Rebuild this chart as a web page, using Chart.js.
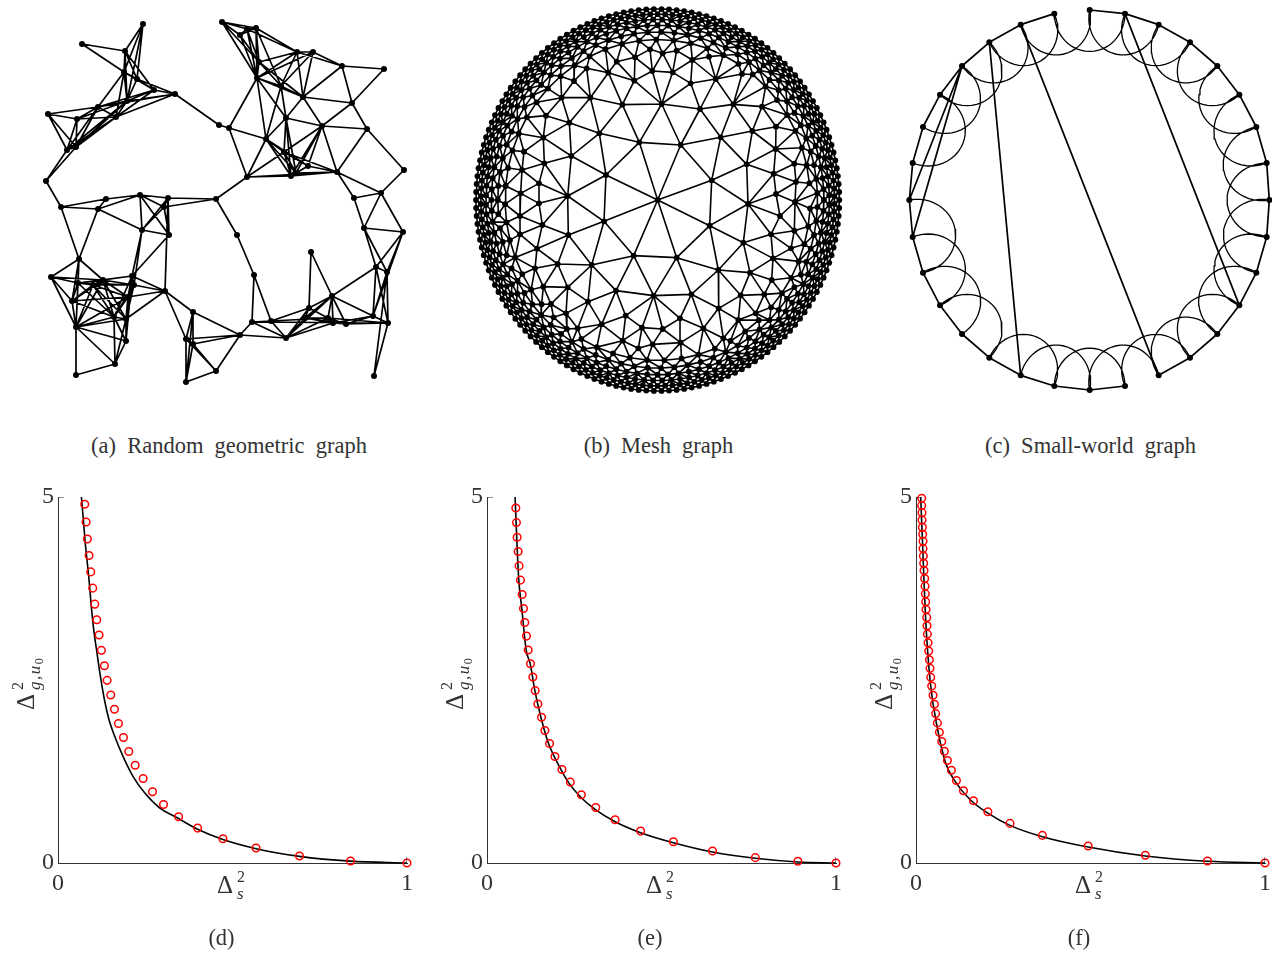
<!DOCTYPE html>
<html>
<head>
<meta charset="utf-8">
<script src="https://cdn.jsdelivr.net/npm/chart.js@4/dist/chart.umd.js"></script>
<style>
body { margin: 0; background: #fff; }
#page { position: relative; width: 1272px; height: 953px; overflow: hidden; font-family: "Liberation Serif", serif; color: #333; }
canvas { position: absolute; }
.caption { position: absolute; transform: translateX(-50%); font-size: 22.5px; line-height: 24px; white-space: nowrap; word-spacing: 5.5px; }
.math { position: absolute; white-space: nowrap; font-size: 25px; line-height: 24px; height: 24px; }
.math .up { position: absolute; left: 20px; top: -8px; font-size: 16px; }
.math .down { position: absolute; left: 20px; top: 9px; font-size: 17px; font-style: italic; }
.math .zero { font-size: 12px; font-style: normal; position: relative; top: 3px; }
.rot .down { letter-spacing: 1.5px; }
.rot { transform: rotate(-90deg); transform-origin: 0 0; }
</style>
</head>
<body>
<div id="page"></div>
<script>
// ---- (a) random geometric graph, nodes
const geoNodes = [[143,24],[82,44],[125,51],[124,72],[137,79],[154,90],[175,94],[127,101],[98,107],[116,117],
[48,114],[77,119],[76,147],[67,150],[46,181],[219,125],[229,128],[222,22],[247,29],[256,28],
[240,35],[259,62],[257,78],[297,52],[313,52],[342,66],[384,69],[281,86],[303,97],[352,103],
[286,118],[322,126],[367,129],[266,139],[284,152],[308,166],[337,172],[296,173],[291,176],[247,177],
[404,170],[381,193],[354,198],[216,199],[61,207],[106,199],[98,209],[140,195],[168,198],[164,207],
[142,230],[169,235],[79,259],[51,277],[78,283],[103,280],[93,285],[132,276],[134,285],[72,301],
[128,297],[165,291],[114,317],[126,319],[76,327],[126,341],[115,364],[76,375],[193,312],[186,339],
[193,344],[216,371],[186,382],[237,235],[254,275],[252,322],[271,321],[240,335],[286,338],[311,252],
[309,308],[305,318],[332,296],[328,318],[333,323],[346,324],[373,316],[388,323],[374,376],[376,267],
[387,272],[364,228],[403,232]];
const geoEdges = [[1,2],[1,3],[0,2],[0,3],[0,4],[0,7],[2,3],[2,4],[2,5],[2,7],[3,4],[3,5],[3,7],[3,8],[3,9],[4,5],[4,6],[4,7],
[5,6],[5,7],[5,8],[5,9],[6,7],[6,8],[6,9],[6,15],[7,8],[7,9],[7,11],[7,12],[7,13],[8,9],[8,10],[8,11],[8,12],[8,13],[9,11],[9,12],[9,13],
[10,11],[10,12],[10,13],[11,12],[11,13],[12,13],[12,14],[13,14],[14,44],[15,16],
[17,18],[17,19],[17,20],[17,21],[17,22],[18,19],[18,20],[18,21],[18,22],[19,20],[19,21],[19,22],[20,21],[20,22],[21,22],
[19,23],[18,23],[19,27],[21,23],[22,23],[21,27],[22,27],[22,28],[21,28],[23,24],[22,24],[27,23],[27,24],[23,25],[24,25],
[23,28],[24,28],[27,28],[25,26],[25,28],[25,29],[26,29],[28,29],[27,30],[22,30],[28,30],[28,31],[29,31],[29,32],[30,31],[31,32],
[22,33],[16,22],[16,33],[16,39],[33,39],[33,27],[33,30],[33,34],[33,35],[33,37],[33,38],[30,34],[30,37],[30,38],[31,34],[31,35],[31,36],[31,37],[31,38],
[34,35],[34,37],[34,38],[34,36],[34,39],[35,37],[35,38],[35,36],[36,37],[36,38],[36,39],[38,39],[32,36],[32,40],[36,41],[36,42],[40,41],[41,42],[39,43],
[44,45],[44,46],[45,46],[45,47],[46,47],[46,50],[47,48],[47,49],[47,50],[47,51],[48,49],[48,50],[48,51],[48,43],[49,43],[49,50],[49,51],[50,51],[44,52],[46,52],
[50,57],[50,58],[51,57],[48,61],[52,53],[52,54],[52,55],[52,59],[52,64],[53,54],[53,55],[53,59],[53,64],[54,55],[54,56],[54,57],[54,58],[54,59],[54,62],[54,64],
[55,56],[55,57],[55,58],[55,60],[55,59],[55,62],[55,63],[55,64],[56,58],[56,60],[56,59],[56,62],[56,63],[56,64],[57,58],[57,60],[57,61],[57,62],[57,63],[57,65],
[58,60],[58,61],[58,62],[58,63],[59,60],[59,62],[59,64],[60,61],[60,62],[60,63],[60,64],[60,65],[61,63],[62,63],[62,64],[62,65],[62,66],[63,64],[63,65],[63,66],
[64,65],[64,66],[64,67],[65,66],[66,67],[61,68],[61,69],[68,69],[68,70],[68,72],[69,70],[69,71],[69,72],[70,71],[70,72],[71,72],[71,77],[68,77],[69,77],[70,77],
[43,73],[73,74],[74,75],[74,76],[75,76],[75,77],[75,78],[76,78],[76,80],[75,83],[75,87],[77,78],[78,80],[78,81],[78,82],[78,83],[78,84],[79,80],[79,82],
[80,81],[80,82],[80,83],[81,82],[81,83],[81,84],[81,85],[82,83],[82,84],[82,85],[82,86],[82,89],[83,84],[83,85],[83,87],[84,85],[84,86],[84,87],[85,86],[85,87],
[86,87],[86,89],[86,90],[87,88],[87,89],[87,90],[88,90],[89,90],[89,91],[90,91],[90,92],[86,92],[89,92],[91,92],[91,42],[91,41],[41,92],[42,41]];

// ---- (b) mesh graph: inner nodes one by one, the tight outer rings as angles (deg)
const meshInner = [[563,600],[408,525],[293,588],[402,664],[295,705],[491,767],[365,795],[620,773],[719,677],[745,810],[820,728],[834,612],[725,541],[830,493],
[632,435],[508,427],[388,400],[304,468],[223,490],[220,413],[298,368],[361,293],[275,293],[457,314],[575,312],[690,327],[790,313],[752,412],[847,393],[876,320],
[918,380],[917,447],[911,521],[973,491],[978,546],[918,582],[975,606],[930,648],[973,692],[903,703],[963,745],[909,775],[840,818],[905,840],[883,883],[812,886],
[857,940],[805,960],[746,925],[700,985],[664,883],[551,887],[438,872],[354,905],[293,862],[263,792],[201,746],[195,805],[220,860],[243,912],[288,940],[395,973],
[467,947],[516,983],[578,987],[630,955],[632,1028],[548,1033],[458,1022],[505,1045],[323,985],[217,675],[207,610],[150,648],[150,703],[152,580],[207,550],[156,510],
[162,455],[228,347],[312,243],[350,205],[415,218],[493,242],[547,213],[608,217],[662,250],[737,237],[816,222],[495,172],[540,148],[578,160],[620,152],[667,180],
[717,170],[440,185],[760,1015]];
const meshRing1 = [0,2.4,4.8,7.2,9.6,12,14.4,16.8,19.2,21.6,24,26.4,28.8,31.2,33.6,36,38.4,40.8,43.2,45.6,48,50.4,52.8,55.2,57.6,60,62.4,64.8,67.2,69.6,
72,74.4,76.8,79.2,81.6,84,86.4,88.8,91.2,93.6,96,98.4,100.8,103.2,105.6,108,110.4,112.8,115.2,117.6,120,122.4,124.8,127.2,129.6,132,134.4,136.8,139.2,141.6,
144,146.4,148.8,151.2,153.6,156,158.4,160.8,163.2,165.6,168,170.4,172.8,175.2,177.6,180,182.4,184.8,187.2,189.6,192,194.4,196.8,199.2,201.6,204,206.4,208.8,211.2,213.6,
216,218.4,220.8,223.2,225.6,228,230.4,232.8,235.2,237.6,240,242.4,244.8,247.2,249.6,252,254.4,256.8,259.2,261.6,264,266.4,268.8,271.2,273.6,276,278.4,280.8,283.2,285.6,
288,290.4,292.8,295.2,297.6,300,302.4,304.8,307.2,309.6,312,314.4,316.8,319.2,321.6,324,326.4,328.8,331.2,333.6,336,338.4,340.8,343.2,345.6,348,350.4,352.8,355.2,357.6];
const meshRing2 = [1.2,3.6,6,8.4,10.8,13.2,15.6,18,20.4,22.8,25.2,27.6,30,32.4,34.8,37.2,39.6,42,44.4,46.8,49.2,51.6,54,56.4,58.8,61.2,63.6,66,68.4,70.8,
73.2,75.6,78,80.4,82.8,85.2,87.6,90,92.4,94.8,97.2,99.6,102,104.4,106.8,109.2,111.6,114,116.4,118.8,121.2,123.6,126,128.4,130.8,133.2,135.6,138,140.4,142.8,
145.2,147.6,150,152.4,154.8,157.2,159.6,162,164.4,166.8,169.2,171.6,174,176.4,178.8,181.2,183.6,186,188.4,190.8,193.2,195.6,198,200.4,202.8,205.2,207.6,210,212.4,214.8,
217.2,219.6,222,224.4,226.8,229.2,231.6,234,236.4,238.8,241.2,243.6,246,248.4,250.8,253.2,255.6,258,260.4,262.8,265.2,267.6,270,272.4,274.8,277.2,279.6,282,284.4,286.8,
289.2,291.6,294,296.4,298.8,301.2,303.6,306,308.4,310.8,313.2,315.6,318,320.4,322.8,325.2,327.6,330,332.4,334.8,337.2,339.6,342,344.4,346.8,349.2,351.6,354,356.4,358.8];
const meshRing3 = [1.5,4.5,7.5,10.5,13.5,16.5,19.5,22.5,25.5,28.5,31.5,34.5,37.5,40.5,43.5,46.5,49.5,52.5,55.5,58.5,61.5,64.5,67.5,70.5,73.5,76.5,79.5,82.5,85.5,88.5,91.5,94.5,97.5,100.5,103.5,106.5,109.5,112.5,115.5,118.5,
121.5,124.5,127.5,130.5,133.5,136.5,139.5,142.5,145.5,148.5,151.5,154.5,157.5,160.5,163.5,166.5,169.5,172.5,175.5,178.5,181.5,184.5,187.5,190.5,193.5,196.5,199.5,202.5,205.5,208.5,211.5,214.5,217.5,220.5,223.5,226.5,229.5,232.5,235.5,238.5,
241.5,244.5,247.5,250.5,253.5,256.5,259.5,262.5,265.5,268.5,271.5,274.5,277.5,280.5,283.5,286.5,289.5,292.5,295.5,298.5,301.5,304.5,307.5,310.5,313.5,316.5,319.5,322.5,325.5,328.5,331.5,334.5,337.5,340.5,343.5,346.5,349.5,352.5,355.5,358.5];
const meshRing4 = [0,3.6,7.2,10.8,14.4,18,21.6,25.2,28.8,32.4,36,39.6,43.2,46.8,50.4,54,57.6,61.2,64.8,68.4,72,75.6,79.2,82.8,86.4,90,93.6,97.2,100.8,104.4,108,111.6,115.2,118.8,122.4,126,129.6,133.2,136.8,140.4,144,147.6,151.2,154.8,158.4,162,165.6,169.2,172.8,176.4,
180,183.6,187.2,190.8,194.4,198,201.6,205.2,208.8,212.4,216,219.6,223.2,226.8,230.4,234,237.6,241.2,244.8,248.4,252,255.6,259.2,262.8,266.4,270,273.6,277.2,280.8,284.4,288,291.6,295.2,298.8,302.4,306,309.6,313.2,316.8,320.4,324,327.6,331.2,334.8,338.4,342,345.6,349.2,352.8,356.4];
const meshRing5 = [2.4,7.2,12,16.8,21.6,26.4,31.2,36,40.8,45.6,50.4,55.2,60,64.8,69.6,74.4,79.2,84,88.8,93.6,98.4,103.2,108,112.8,117.6,122.4,127.2,132,136.8,141.6,146.4,151.2,156,160.8,165.6,170.4,175.2,180,184.8,189.6,
194.4,199.2,204,208.8,213.6,218.4,223.2,228,232.8,237.6,242.4,247.2,252,256.8,261.6,266.4,271.2,276,280.8,285.6,290.4,295.2,300,304.8,309.6,314.4,319.2,324,328.8,333.6,338.4,343.2,348,352.8,357.6];
const meshRing6 = [3,9.5,16,22.5,29,35.5,42,48.5,55,61.5,68,74.5,81,87.5,94,100.5,107,113.5,120,126.5,133,139.5,146,152.5,159,165.5,172,178.5,185,191.5,198,204.5,211,217.5,224,230.5,237,243.5,250,256.5,263,269.5,276,282.5,289,295.5,302,308.5,315,321.5,328,334.5,341,347.5,354];
const meshRingScale = [1, 0.973, 0.945, 0.915, 0.88, 0.84];

// ---- (c) small-world graph
const smallNodes = [[569,30],[675,41],[776,74],[870,127],[952,198],[1018,284],[1069,381],[1100,489],[1108,600],[1100,711],[1069,818],[1018,916],[952,1002],[870,1073],[776,1126],[675,1158],
[569,1170],[463,1158],[362,1126],[268,1073],[186,1002],[120,916],[69,818],[38,711],[28,600],[38,489],[69,381],[120,284],[186,198],[268,127],[362,74],[463,41]];
const smallEdges = [[0,1],[1,2],[2,3],[3,4],[4,5],[5,6],[6,7],[7,8],[8,9],[9,10],[10,11],[11,12],[12,13],[13,14],[15,16],[16,17],[17,18],[18,19],[19,20],[20,21],[21,22],[22,23],[23,24],[24,25],[25,26],[26,27],[27,28],[28,29],[29,30],[30,31],
[29,18],[30,14],[1,11],[28,24],[28,23]];
const smallArcs = [[24,22],[23,21],[22,20],[21,19],[19,17],[18,16],[17,15],[16,14],[15,13],[14,12],[13,11],[12,10],[11,9],[10,8],[9,7],[8,6],[7,5],[6,4],[5,3],[4,2],[3,1],[2,0],[1,31],[0,30],[31,29],[30,28],[29,27],[28,26],[27,25]];

// ---- (d) (e) (f) curves: [x, y]
const curveD = [[.067,5],[.0725,4.7],[.0775,4.4],[.0832,4.136],[.089,3.864],[.0947,3.545],[.1025,3.181],[.1119,2.864],[.1217,2.545],[.1332,2.227],[.1464,1.954],[.1627,1.727],[.1866,1.454],[.2153,1.181],[.2488,.955],[.2919,.75],[.335,.635],[.4,.46],[.4727,.32],[.5675,.195],[.6919,.09],[.8383,.025],[1,0]];
const circlesD = [[.0766,4.9],[.0804,4.659],[.0842,4.427],[.089,4.2],[.0938,3.977],[.0995,3.755],[.1053,3.536],[.111,3.323],[.1177,3.114],[.1244,2.905],[.133,2.695],[.1407,2.495],[.1512,2.295],[.1617,2.1],[.1732,1.905],[.1876,1.714],[.2029,1.523],[.2211,1.336],[.244,1.155],[.2708,.973],[.3024,.8],[.3455,.632],[.4,.477],[.4727,.332],[.5675,.205],[.6919,.095],[.8383,.027],[1,0]];
const curveE = [[.0805,5],[.0834,4.65],[.0863,4.318],[.0911,3.864],[.0997,3.477],[.1122,2.909],[.1237,2.723],[.1371,2.355],[.1544,1.991],[.1764,1.632],[.2119,1.277],[.2349,1.091],[.2665,.909],[.3087,.736],[.3672,.564],[.4401,.414],[.534,.277],[.6462,.15],[.7689,.064],[.8907,.014],[1,0]];
const circlesE = [[.0825,4.85],[.0844,4.65],[.0863,4.45],[.0892,4.255],[.092,4.059],[.0959,3.864],[.1007,3.668],[.1045,3.477],[.1083,3.286],[.1131,3.1],[.1179,2.909],[.1246,2.723],[.1314,2.541],[.1381,2.355],[.1457,2.173],[.1563,1.991],[.1659,1.809],[.1793,1.632],[.1946,1.455],[.2148,1.277],[.2387,1.105],[.2704,.932],[.3116,.759],[.3672,.591],[.4401,.436],[.534,.291],[.6462,.164],[.7689,.073],[.8907,.023],[1,0]];
const curveF = [[.0134,5],[.0192,4.318],[.0268,3.409],[.0402,2.5],[.0623,1.818],[.0852,1.364],[.1092,1.136],[.1552,.864],[.2059,.682],[.2692,.514],[.3621,.359],[.4933,.218],[.6571,.095],[.8352,.023],[1,0]];
const circlesF = [[.0163,4.982],[.0163,4.882],[.0172,4.786],[.0172,4.686],[.0182,4.586],[.0192,4.491],[.0201,4.395],[.0201,4.295],[.0211,4.195],[.022,4.095],[.023,3.995],[.0249,3.886],[.0259,3.782],[.0268,3.677],[.0278,3.568],[.0287,3.464],[.0307,3.355],[.0316,3.241],[.0326,3.127],[.0345,3.009],[.0364,2.895],[.0383,2.777],[.0402,2.659],[.0421,2.536],[.045,2.418],[.0489,2.291],[.0527,2.168],[.0565,2.041],[.0613,1.914],[.067,1.786],[.0738,1.659],[.0814,1.527],[.09,1.4],[.1015,1.268],[.1159,1.127],[.136,.986],[.1648,.85],[.2059,.7],[.2692,.541],[.3621,.377],[.4933,.232],[.6571,.105],[.8352,.027],[1,0]];

const xTicks = [0, 1];
const yTicks = [0, 5];
const topCaptions = ['(a) Random geometric graph', '(b) Mesh graph', '(c) Small-world graph'];
const bottomCaptions = ['(d)', '(e)', '(f)'];

const page = document.getElementById('page');
const GAP = { x: NaN, y: NaN };

function addCanvas(left, top, width, height) {
    const c = document.createElement('canvas');
    c.width = width;
    c.height = height;
    c.style.left = left + 'px';
    c.style.top = top + 'px';
    page.appendChild(c);
    return c;
}

function addCaption(text, center, top) {
    const d = document.createElement('div');
    d.className = 'caption';
    d.textContent = text;
    d.style.left = center + 'px';
    d.style.top = top + 'px';
    page.appendChild(d);
}

function addMath(left, top, down, rotated) {
    const d = document.createElement('div');
    d.className = 'math' + (rotated ? ' rot' : '');
    d.style.left = left + 'px';
    d.style.top = top + 'px';
    d.innerHTML = 'Δ<span class="up">2</span><span class="down">' + down + '</span>';
    page.appendChild(d);
}

function toPoints(nodes, edges) {
    const pts = [];
    edges.forEach(([a, b]) => {
        pts.push({ x: nodes[a][0], y: nodes[a][1] }, { x: nodes[b][0], y: nodes[b][1] }, GAP);
    });
    return pts;
}

function graphChart(canvas, xMin, xMax, yMin, yMax, nodes, linePoints, lineWidth, radius, extra) {
    const datasets = [{
        data: linePoints, showLine: true, spanGaps: false, borderColor: '#000', borderWidth: lineWidth,
        pointRadius: 0, tension: 0, clip: false
    }];
    if (extra) datasets.push(extra);
    datasets.push({
        data: nodes.map(n => ({ x: n[0], y: n[1] })), showLine: false, pointRadius: radius,
        pointBackgroundColor: '#000', pointBorderWidth: 0, clip: false
    });
    return new Chart(canvas, {
        type: 'scatter',
        data: { datasets },
        options: {
            responsive: false, animation: false, devicePixelRatio: 1,
            layout: { autoPadding: false, padding: 0 },
            plugins: { legend: { display: false }, tooltip: { enabled: false } },
            scales: {
                x: { type: 'linear', display: false, min: xMin, max: xMax },
                y: { type: 'linear', display: false, min: yMin, max: yMax, reverse: true }
            }
        }
    });
}

// mesh edges are the triangulation of the nodes that were read
function delaunayEdges(pts) {
    const n = pts.length;
    const all = pts.concat([[-200000, -200000], [200000, -200000], [0, 300000]]);
    const circum = (a, b, c) => {
        const [ax, ay] = all[a], [bx, by] = all[b], [cx, cy] = all[c];
        const d = 2 * (ax * (by - cy) + bx * (cy - ay) + cx * (ay - by));
        const a2 = ax * ax + ay * ay, b2 = bx * bx + by * by, c2 = cx * cx + cy * cy;
        const ux = (a2 * (by - cy) + b2 * (cy - ay) + c2 * (ay - by)) / d;
        const uy = (a2 * (cx - bx) + b2 * (ax - cx) + c2 * (bx - ax)) / d;
        return { a, b, c, ux, uy, r: (ax - ux) ** 2 + (ay - uy) ** 2 };
    };
    let tris = [circum(n, n + 1, n + 2)];
    for (let i = 0; i < n; i++) {
        const [px, py] = all[i];
        const keep = [], open = new Map();
        tris.forEach(t => {
            if ((px - t.ux) ** 2 + (py - t.uy) ** 2 < t.r - 1e-6) {
                [[t.a, t.b], [t.b, t.c], [t.c, t.a]].forEach(([u, v]) => {
                    const k = Math.min(u, v) + '_' + Math.max(u, v);
                    open.set(k, open.has(k) ? null : [u, v]);
                });
            } else keep.push(t);
        });
        open.forEach(e => { if (e) keep.push(circum(e[0], e[1], i)); });
        tris = keep;
    }
    const seen = new Map();
    tris.forEach(t => {
        [[t.a, t.b], [t.b, t.c], [t.c, t.a]].forEach(([u, v]) => {
            if (u < n && v < n) seen.set(Math.min(u, v) + '_' + Math.max(u, v), [u, v]);
        });
    });
    return [...seen.values()];
}

// ---- top row
graphChart(addCanvas(30, 0, 390, 400), 30, 420, 0, 400, geoNodes, toPoints(geoNodes, geoEdges), 1.7, 3);

const meshNodes = meshInner.slice();
[meshRing1, meshRing2, meshRing3, meshRing4, meshRing5, meshRing6].forEach((ring, r) => {
    ring.forEach(deg => {
        const t = deg * Math.PI / 180;
        meshNodes.push([563 + 545 * meshRingScale[r] * Math.cos(t), 600 + 573 * meshRingScale[r] * Math.sin(t)]);
    });
});
graphChart(addCanvas(470, 0, 380, 400), 0, 1140, 0, 1200, meshNodes, toPoints(meshNodes, delaunayEdges(meshNodes)), 1.6, 2.9);

// arcs bow from one node to the next but one, toward the middle of the ring
const arcPoints = [];
smallArcs.forEach(([a, b]) => {
    const [ax, ay] = smallNodes[a], [bx, by] = smallNodes[b];
    const mx = (ax + bx) / 2, my = (ay + by) / 2;
    const ux = ax - mx, uy = ay - my;
    let nx = -uy * 1.07, ny = ux * 1.07;
    if (nx * (568 - mx) + ny * (600 - my) < 0) { nx = -nx; ny = -ny; }
    for (let s = 0; s <= 24; s++) {
        const t = s / 24 * Math.PI;
        arcPoints.push({ x: mx + ux * Math.cos(t) + nx * Math.sin(t), y: my + uy * Math.cos(t) + ny * Math.sin(t) });
    }
    arcPoints.push(GAP);
});
graphChart(addCanvas(900, 0, 372, 400), 0, 1116, 0, 1200, smallNodes, toPoints(smallNodes, smallEdges), 1.7, 3, {
    data: arcPoints, showLine: true, spanGaps: false, borderColor: '#000', borderWidth: 1.3,
    pointRadius: 0, tension: 0, clip: false
});

// ---- bottom row
function noScalePadding(s) {
    s.paddingTop = 0;
    s.paddingBottom = 0;
    s.paddingLeft = 0;
    s.paddingRight = 0;
}

function curveChart(axisLeft, curve, circles) {
    const canvas = addCanvas(axisLeft - 50, 487, 419, 416);
    new Chart(canvas, {
        type: 'scatter',
        data: {
            datasets: [
                { data: [{ x: 0, y: 5 }, { x: 0.017, y: 5 }], showLine: true, borderColor: '#222', borderWidth: 1, pointRadius: 0 },
                { data: [{ x: 1, y: 0 }, { x: 1, y: 0.08 }], showLine: true, borderColor: '#222', borderWidth: 1, pointRadius: 0 },
                {
                    data: circles.map(p => ({ x: p[0], y: p[1] })), showLine: false, pointRadius: 3.8,
                    pointBackgroundColor: 'rgba(0,0,0,0)', pointBorderColor: '#f00', pointBorderWidth: 1.5, clip: false
                },
                {
                    data: curve.map(p => ({ x: p[0], y: p[1] })), showLine: true, borderColor: '#000', borderWidth: 1.6,
                    pointRadius: 0, cubicInterpolationMode: 'monotone', clip: false
                }
            ]
        },
        options: {
            responsive: false, animation: false, devicePixelRatio: 1,
            layout: { autoPadding: false, padding: { top: 10, right: 20, left: 0, bottom: 0 } },
            plugins: { legend: { display: false }, tooltip: { enabled: false } },
            scales: {
                x: {
                    type: 'linear', min: xTicks[0], max: xTicks[1],
                    afterFit: s => { s.height = 40; noScalePadding(s); },
                    grid: { display: false, drawTicks: false },
                    border: { color: '#333', width: 1 },
                    ticks: { stepSize: 1, padding: 6, color: '#333', font: { family: 'Liberation Serif', size: 24 }, maxRotation: 0 }
                },
                y: {
                    type: 'linear', min: yTicks[0], max: yTicks[1],
                    afterFit: s => { s.width = 50; noScalePadding(s); },
                    grid: { display: false, drawTicks: false },
                    border: { color: '#333', width: 1 },
                    ticks: { stepSize: 5, padding: 4, color: '#333', font: { family: 'Liberation Serif', size: 24 } }
                }
            }
        }
    });
    addMath(axisLeft + 159, 873, 's', false);
    addMath(axisLeft - 44, 710, 'g,u<span class="zero">0</span>', true);
}

curveChart(58, curveD, circlesD);
curveChart(487, curveE, circlesE);
curveChart(916, curveF, circlesF);

[229, 658.5, 1090.5].forEach((c, i) => addCaption(topCaptions[i], c, 434));
[221.5, 650, 1079].forEach((c, i) => addCaption(bottomCaptions[i], c, 926));
</script>
</body>
</html>
